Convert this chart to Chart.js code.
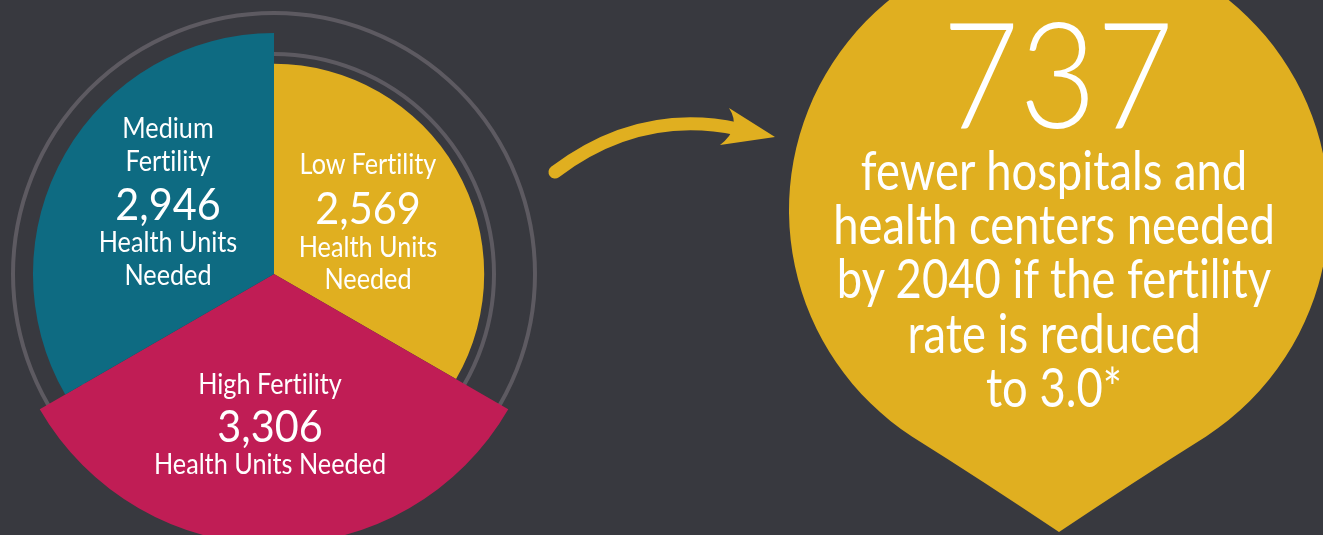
<!DOCTYPE html>
<html>
<head>
<meta charset="utf-8">
<script src="https://cdn.jsdelivr.net/npm/chart.js@4.4.0/dist/chart.umd.min.js"></script>
<style>
    html, body { margin: 0; padding: 0; background: #38393f; overflow: hidden; }
    #wrap { position: relative; width: 1323px; height: 535px; }
    #fertilityChart { position: absolute; left: 0; top: 0; }
    .lbl { position: absolute; width: 600px; text-align: center; color: #fff; white-space: nowrap;
           font-family: Lato, "Open Sans", sans-serif; line-height: 1;
           font-variant-ligatures: none; font-feature-settings: "liga" 0; }
</style>
</head>
<body>
<div id="wrap">
    <canvas id="fertilityChart" width="1323" height="535"></canvas>
</div>
<script>
// slices go clockwise from 12 o'clock
const categories = ['Low Fertility', 'High Fertility', 'Medium Fertility'];
const unitsNeeded = [2569, 3306, 2946];
const sliceColors = ['#e0af20', '#c01d55', '#0e6b82'];
const ringValues = [0, 2689, 3190]; // first one is skipped by the grid
const scaleMax = 3190;

const savedUnits = 737;
const calloutLines = ['fewer hospitals and', 'health centers needed', 'by 2040 if the fertility', 'rate is reduced', 'to 3.0*'];

const gold = '#e0af20';

function formatNumber(n) {
    return n.toString().replace(/\B(?=(\d{3})+(?!\d))/g, ',');
}

// text helper: cx = centre x, base = baseline y
function addLine(text, cx, base, size, weight, sx) {
    const el = document.createElement('div');
    el.className = 'lbl';
    el.textContent = text;
    el.style.fontSize = size + 'px';
    el.style.fontWeight = weight || 400;
    el.style.left = (cx - 300) + 'px';
    el.style.top = (base - size * 0.887) + 'px';
    el.style.transform = 'scaleX(' + (sx || 1) + ')';
    document.getElementById('wrap').appendChild(el);
}

// decorations: arrow and the drop shape on the right
const decorations = {
    id: 'decorations',
    afterDraw(chart) {
        const ctx = chart.ctx;
        ctx.save();
        ctx.fillStyle = gold;
        ctx.strokeStyle = gold;

        // curved arrow
        ctx.lineWidth = 13;
        ctx.lineCap = 'round';
        ctx.beginPath();
        ctx.moveTo(555, 172);
        ctx.quadraticCurveTo(640, 108, 738, 129);
        ctx.stroke();
        ctx.beginPath();
        ctx.moveTo(729, 108);
        ctx.lineTo(775, 137);
        ctx.lineTo(720, 145);
        ctx.quadraticCurveTo(742, 128, 729, 108);
        ctx.fill();

        // drop, sides bend in a little toward the tip
        const cx = 1059, cy = 210, r = 270, tipY = 532;
        const a = Math.acos(r / (tipY - cy));
        const lx = cx + r * Math.cos(Math.PI / 2 + a), ly = cy + r * Math.sin(Math.PI / 2 + a);
        const rx = cx + r * Math.cos(Math.PI / 2 - a);
        ctx.beginPath();
        ctx.arc(cx, cy, r, Math.PI / 2 + a, Math.PI / 2 - a, false);
        ctx.quadraticCurveTo((rx + cx) / 2 + 2, (ly + tipY) / 2 - 3, cx, tipY);
        ctx.quadraticCurveTo((lx + cx) / 2 - 2, (ly + tipY) / 2 - 3, lx, ly);
        ctx.closePath();
        ctx.fill();
        ctx.restore();
    }
};

const ctx = document.getElementById('fertilityChart').getContext('2d');
const fertilityChart = new Chart(ctx, {
    type: 'polarArea',
    data: {
        labels: categories,
        datasets: [{
            data: unitsNeeded,
            backgroundColor: sliceColors,
            borderWidth: 0
        }]
    },
    options: {
        responsive: false,
        animation: false,
        layout: { padding: { left: 13, top: 13, right: 788, bottom: 0 } },
        scales: {
            r: {
                min: 0,
                max: scaleMax,
                ticks: { display: false },
                afterBuildTicks: function (scale) {
                    scale.ticks = ringValues.map(v => ({ value: v }));
                },
                grid: { color: '#5d5a61', lineWidth: 4 },
                angleLines: { display: false },
                pointLabels: { display: false }
            }
        },
        plugins: {
            legend: { display: false },
            tooltip: { enabled: false }
        }
    },
    plugins: [decorations]
});

// slice labels
const lblScale = 0.87, numScale = 0.94;
addLine('Medium', 168, 138, 29, 400, lblScale);
addLine('Fertility', 168, 171, 29, 400, lblScale);
addLine(formatNumber(unitsNeeded[2]), 168, 220, 44, 400, numScale);
addLine('Health Units', 168, 252, 29, 400, lblScale);
addLine('Needed', 168, 285, 29, 400, lblScale);

addLine(categories[0], 368, 174, 29, 400, lblScale);
addLine(formatNumber(unitsNeeded[0]), 368, 224, 44, 400, numScale);
addLine('Health Units', 368, 257, 29, 400, lblScale);
addLine('Needed', 368, 289, 29, 400, lblScale);

addLine(categories[1], 270, 394, 29, 400, lblScale);
addLine(formatNumber(unitsNeeded[1]), 270, 442, 44, 400, numScale);
addLine('Health Units Needed', 270, 474, 29, 400, lblScale);

// callout
addLine(String(savedUnits), 1058, 128, 148, 300, 0.9);
const calloutBase = [191, 245, 299, 354, 408];
calloutLines.forEach((t, i) => addLine(t, 1054, calloutBase[i], 54, 400, 0.84));
</script>
</body>
</html>
